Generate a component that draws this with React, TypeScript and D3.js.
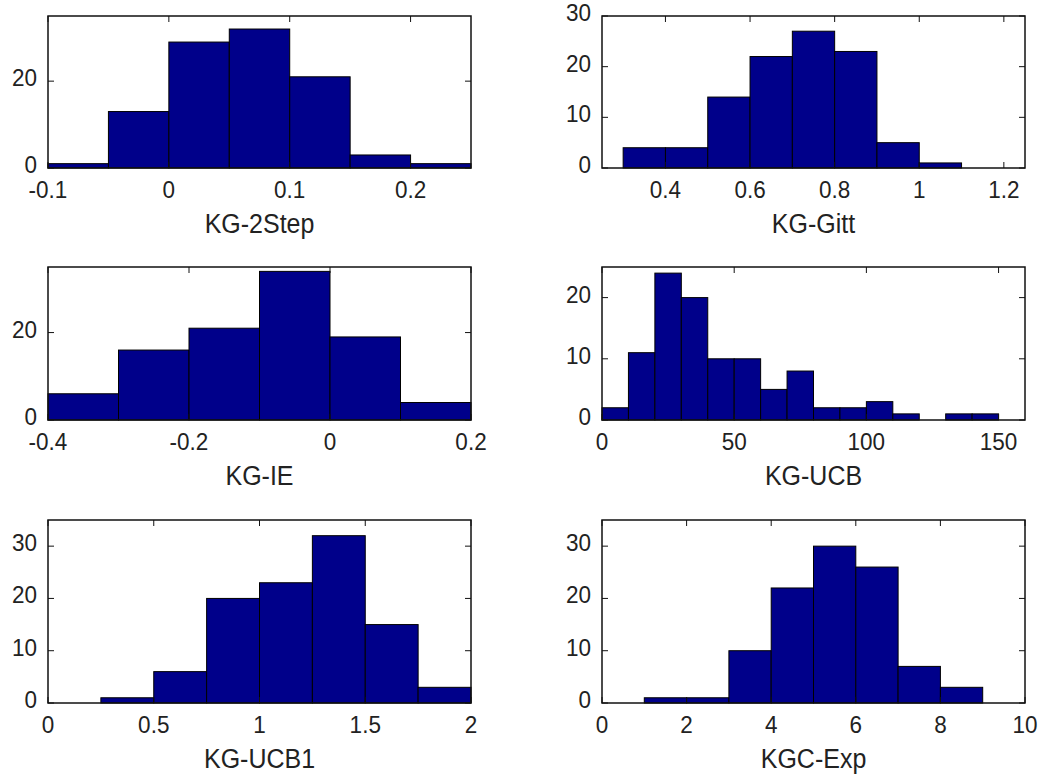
import * as d3 from "d3";
import { useEffect, useRef } from "react";

// histogram counts, bins start at binStart and step by binWidth
const twoStepCounts = [1, 13, 29, 32, 21, 3, 1];
const gittCounts = [4, 4, 14, 22, 27, 23, 5, 1];
const ieCounts = [6, 16, 21, 34, 19, 4];
const ucbCounts = [2, 11, 24, 20, 10, 10, 5, 8, 2, 2, 3, 1, 0, 1, 1];
const ucb1Counts = [1, 6, 20, 23, 32, 15, 3];
const expCounts = [1, 1, 10, 22, 30, 26, 7, 3];

const labels = ["KG-2Step", "KG-Gitt", "KG-IE", "KG-UCB", "KG-UCB1", "KGC-Exp"];
const binStarts = [-0.1, 0.3, -0.4, 0, 0.25, 1];
const binWidths = [0.05, 0.1, 0.1, 10, 0.25, 1];
const xDomains = [[-0.1, 0.25], [0.25, 1.25], [-0.4, 0.2], [0, 160], [0, 2], [0, 10]];
const xTicks = [
  [-0.1, 0, 0.1, 0.2],
  [0.4, 0.6, 0.8, 1, 1.2],
  [-0.4, -0.2, 0, 0.2],
  [0, 50, 100, 150],
  [0, 0.5, 1, 1.5, 2],
  [0, 2, 4, 6, 8, 10],
];
const yMaxes = [35, 30, 35, 25, 35, 35];
const yTicks = [[0, 20], [0, 10, 20, 30], [0, 20], [0, 10, 20], [0, 10, 20, 30], [0, 10, 20, 30]];

const allCounts = [twoStepCounts, gittCounts, ieCounts, ucbCounts, ucb1Counts, expCounts];

const App = () => {
  const ref = useRef<SVGSVGElement>(null);

  useEffect(() => {
    const svg = d3.select(ref.current);
    svg.selectAll("*").remove();

    const cols = [[48, 471], [602, 1025]];
    const rows = [[16, 168], [267, 420], [520, 703]];
    const font = "'Liberation Sans', Arial, sans-serif";

    allCounts.forEach((counts, i) => {
      const [x0, x1] = cols[i % 2];
      const [y0, y1] = rows[Math.floor(i / 2)];
      const x = d3.scaleLinear().domain(xDomains[i]).range([x0, x1]);
      const y = d3.scaleLinear().domain([0, yMaxes[i]]).range([y1, y0]);
      const g = svg.append("g");

      // bars
      g.selectAll("rect")
        .data(counts)
        .join("rect")
        .attr("x", (d, k) => x(binStarts[i] + k * binWidths[i]))
        .attr("y", (d) => y(d))
        .attr("width", (d, k) => x(binStarts[i] + (k + 1) * binWidths[i]) - x(binStarts[i] + k * binWidths[i]))
        .attr("height", (d) => y1 - y(d))
        .attr("fill", "#00008a")
        .attr("stroke", "#000")
        .attr("stroke-width", 1);

      // box
      g.append("rect")
        .attr("x", x0)
        .attr("y", y0)
        .attr("width", x1 - x0)
        .attr("height", y1 - y0)
        .attr("fill", "none")
        .attr("stroke", "#111")
        .attr("stroke-width", 1.5);

      // ticks inside on all sides
      const tl = 6;
      xTicks[i].forEach((t) => {
        g.append("line").attr("x1", x(t)).attr("x2", x(t)).attr("y1", y1).attr("y2", y1 - tl).attr("stroke", "#111");
        g.append("line").attr("x1", x(t)).attr("x2", x(t)).attr("y1", y0).attr("y2", y0 + tl).attr("stroke", "#111");
        g.append("text")
          .attr("transform", `translate(${x(t)},${y1 + 30}) scale(1,1.08)`)
          .attr("text-anchor", "middle")
          .style("font-family", font)
          .style("font-size", "22.5px")
          .attr("fill", "#222")
          .text(String(t));
      });
      yTicks[i].forEach((t) => {
        g.append("line").attr("x1", x0).attr("x2", x0 + tl).attr("y1", y(t)).attr("y2", y(t)).attr("stroke", "#111");
        g.append("line").attr("x1", x1).attr("x2", x1 - tl).attr("y1", y(t)).attr("y2", y(t)).attr("stroke", "#111");
        g.append("text")
          .attr("transform", `translate(${x0 - 11},${y(t) + 5}) scale(1,1.08)`)
          .attr("text-anchor", "end")
          .style("font-family", font)
          .style("font-size", "22.5px")
          .attr("fill", "#222")
          .text(String(t));
      });

      // x label
      g.append("text")
        .attr("transform", `translate(${(x0 + x1) / 2},${y1 + 65}) scale(1,1.12)`)
        .attr("text-anchor", "middle")
        .style("font-family", font)
        .style("font-size", "25px")
        .attr("fill", "#222")
        .text(labels[i]);
    });
  }, []);

  return (
    <svg
      ref={ref}
      width={1041}
      height={776}
      style={{ position: "absolute", left: 0, top: 0, background: "#fff" }}
    />
  );
};

export default App;
